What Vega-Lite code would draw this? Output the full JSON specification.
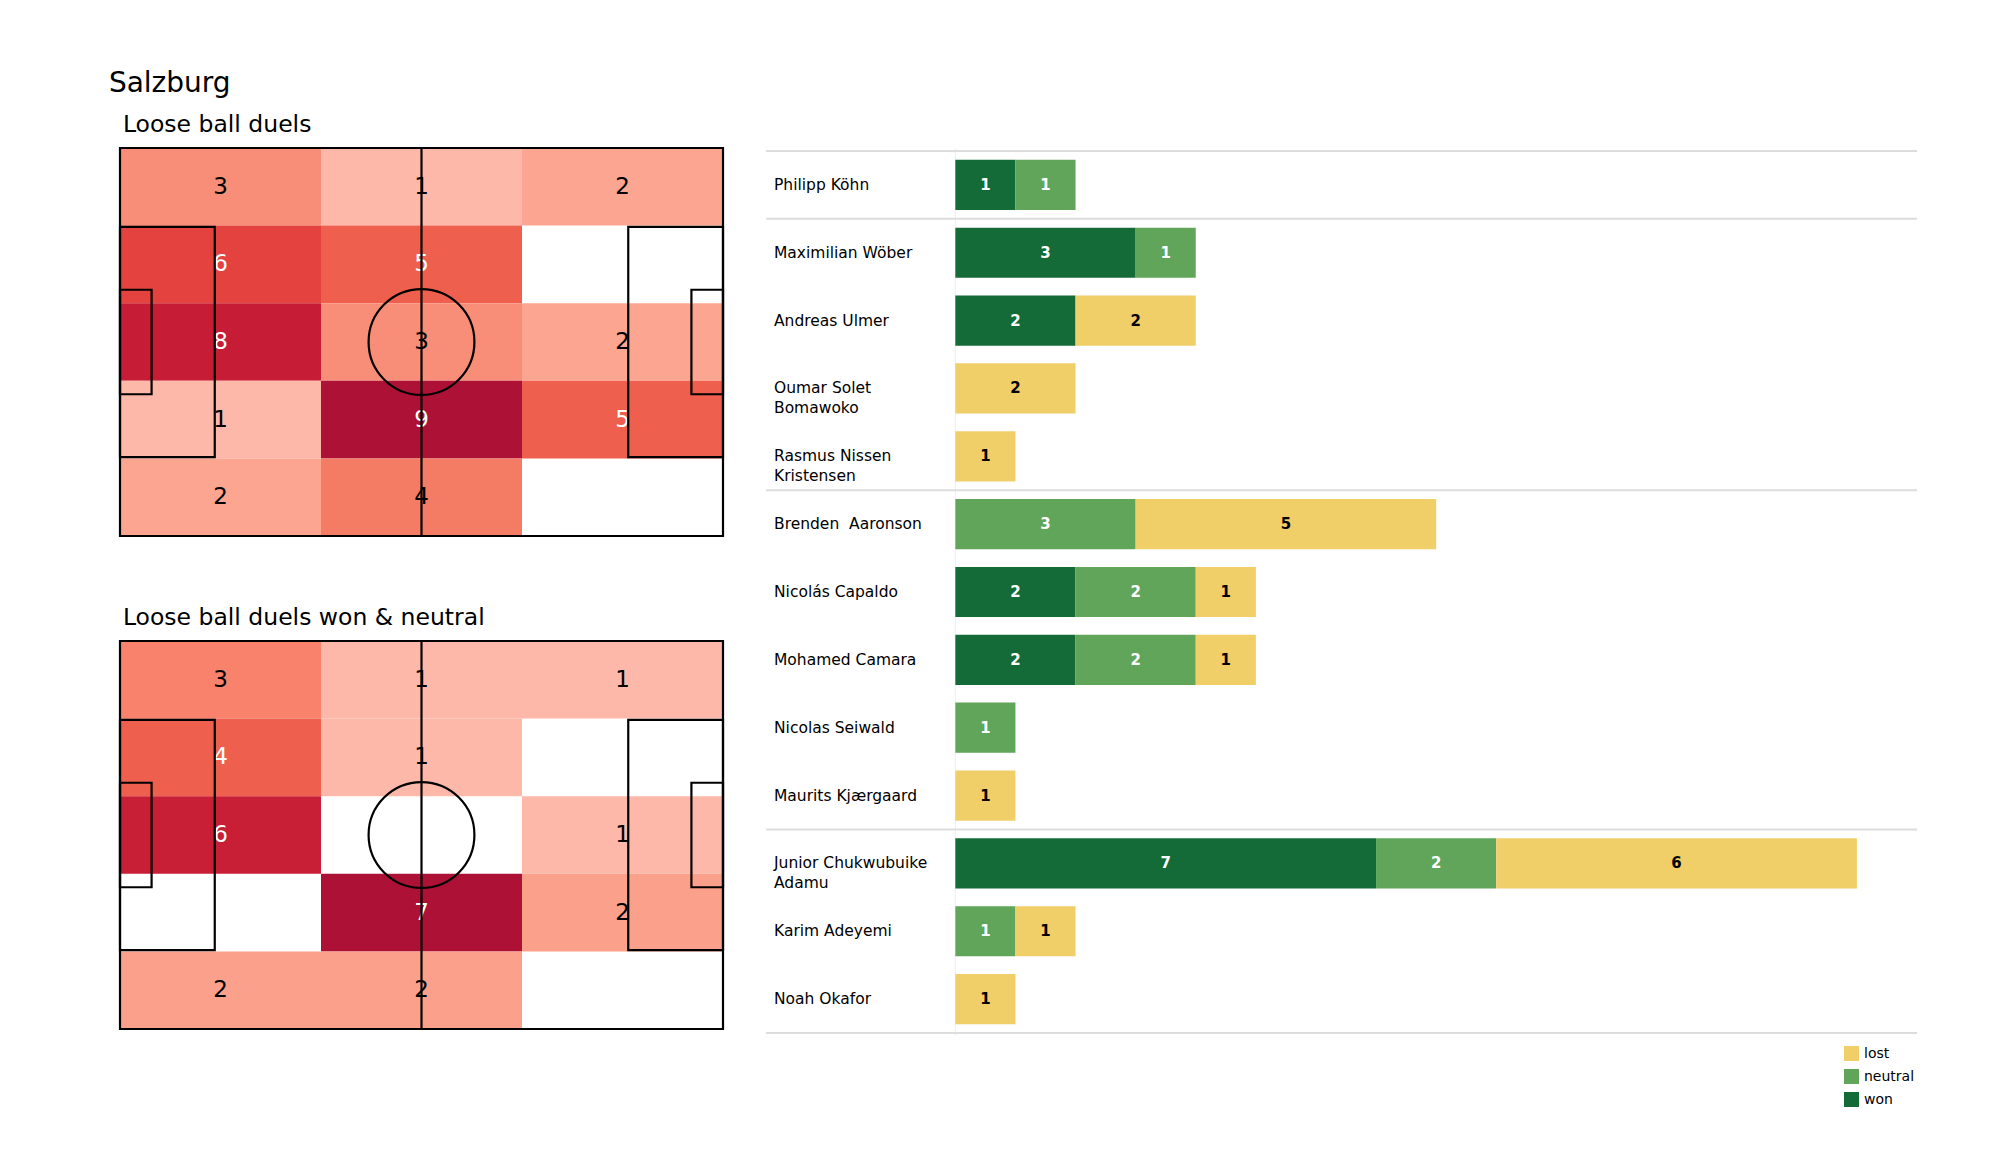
{
  "$schema": "https://vega.github.io/schema/vega-lite/v6.json",
  "background": "white",
  "padding": {"left": 108, "top": 70, "right": 84, "bottom": 20},
  "config": {
    "font": "DejaVu Sans",
    "view": {"stroke": null},
    "title": {"fontWeight": "normal", "color": "black", "font": "DejaVu Sans"}
  },
  "title": {"text": "Salzburg", "anchor": "start", "fontSize": 28, "offset": -13.5, "baseline": "alphabetic", "dx": -10},
  "datasets": {
    "loose": [
      {"row": 1, "col": 1, "n": 3}, {"row": 1, "col": 2, "n": 1}, {"row": 1, "col": 3, "n": 2},
      {"row": 2, "col": 1, "n": 6}, {"row": 2, "col": 2, "n": 5},
      {"row": 3, "col": 1, "n": 8}, {"row": 3, "col": 2, "n": 3}, {"row": 3, "col": 3, "n": 2},
      {"row": 4, "col": 1, "n": 1}, {"row": 4, "col": 2, "n": 9}, {"row": 4, "col": 3, "n": 5},
      {"row": 5, "col": 1, "n": 2}, {"row": 5, "col": 2, "n": 4}
    ],
    "wonneutral": [
      {"row": 1, "col": 1, "n": 3}, {"row": 1, "col": 2, "n": 1}, {"row": 1, "col": 3, "n": 1},
      {"row": 2, "col": 1, "n": 4}, {"row": 2, "col": 2, "n": 1},
      {"row": 3, "col": 1, "n": 6}, {"row": 3, "col": 3, "n": 1},
      {"row": 4, "col": 2, "n": 7}, {"row": 4, "col": 3, "n": 2},
      {"row": 5, "col": 1, "n": 2}, {"row": 5, "col": 2, "n": 2}
    ],
    "boxes": [
      {"x0": 0, "x1": 105, "y0": 0, "y1": 68},
      {"x0": 0, "x1": 16.5, "y0": 13.84, "y1": 54.16},
      {"x0": 88.5, "x1": 105, "y0": 13.84, "y1": 54.16},
      {"x0": 0, "x1": 5.5, "y0": 24.84, "y1": 43.16},
      {"x0": 99.5, "x1": 105, "y0": 24.84, "y1": 43.16}
    ],
    "players": [
      {"player": "Philipp Köhn", "label": "Philipp Köhn"},
      {"player": "Maximilian Wöber", "label": "Maximilian Wöber"},
      {"player": "Andreas Ulmer", "label": "Andreas Ulmer"},
      {"player": "Oumar Solet Bomawoko", "label": "Oumar Solet|Bomawoko"},
      {"player": "Rasmus Nissen Kristensen", "label": "Rasmus Nissen|Kristensen"},
      {"player": "Brenden  Aaronson", "label": "Brenden\u00a0\u00a0Aaronson"},
      {"player": "Nicolás Capaldo", "label": "Nicolás Capaldo"},
      {"player": "Mohamed Camara", "label": "Mohamed Camara"},
      {"player": "Nicolas Seiwald", "label": "Nicolas Seiwald"},
      {"player": "Maurits Kjærgaard", "label": "Maurits Kjærgaard"},
      {"player": "Junior Chukwubuike Adamu", "label": "Junior Chukwubuike|Adamu"},
      {"player": "Karim Adeyemi", "label": "Karim Adeyemi"},
      {"player": "Noah Okafor", "label": "Noah Okafor"}
    ],
    "duels": [
      {"player": "Philipp Köhn", "result": "won", "n": 1},
      {"player": "Philipp Köhn", "result": "neutral", "n": 1},
      {"player": "Maximilian Wöber", "result": "won", "n": 3},
      {"player": "Maximilian Wöber", "result": "neutral", "n": 1},
      {"player": "Andreas Ulmer", "result": "won", "n": 2},
      {"player": "Andreas Ulmer", "result": "lost", "n": 2},
      {"player": "Oumar Solet Bomawoko", "result": "lost", "n": 2},
      {"player": "Rasmus Nissen Kristensen", "result": "lost", "n": 1},
      {"player": "Brenden  Aaronson", "result": "neutral", "n": 3},
      {"player": "Brenden  Aaronson", "result": "lost", "n": 5},
      {"player": "Nicolás Capaldo", "result": "won", "n": 2},
      {"player": "Nicolás Capaldo", "result": "neutral", "n": 2},
      {"player": "Nicolás Capaldo", "result": "lost", "n": 1},
      {"player": "Mohamed Camara", "result": "won", "n": 2},
      {"player": "Mohamed Camara", "result": "neutral", "n": 2},
      {"player": "Mohamed Camara", "result": "lost", "n": 1},
      {"player": "Nicolas Seiwald", "result": "neutral", "n": 1},
      {"player": "Maurits Kjærgaard", "result": "lost", "n": 1},
      {"player": "Junior Chukwubuike Adamu", "result": "won", "n": 7},
      {"player": "Junior Chukwubuike Adamu", "result": "neutral", "n": 2},
      {"player": "Junior Chukwubuike Adamu", "result": "lost", "n": 6},
      {"player": "Karim Adeyemi", "result": "neutral", "n": 1},
      {"player": "Karim Adeyemi", "result": "lost", "n": 1},
      {"player": "Noah Okafor", "result": "lost", "n": 1}
    ]
  },
  "spacing": 40,
  "hconcat": [
    {
      "spacing": 68,
      "vconcat": [
        {
          "width": 603,
          "height": 388,
          "title": {"text": "Loose ball duels", "anchor": "start", "fontSize": 23.5, "offset": -9, "baseline": "alphabetic", "dx": 4},
          "layer": [
            {
              "data": {"name": "loose"},
              "encoding": {
                "x": {"field": "col", "type": "ordinal", "scale": {"domain": [1, 2, 3], "paddingInner": 0, "paddingOuter": 0}, "axis": null},
                "y": {"field": "row", "type": "ordinal", "scale": {"domain": [1, 2, 3, 4, 5], "paddingInner": 0, "paddingOuter": 0}, "axis": null}
              },
              "layer": [
                {
                  "mark": {"type": "rect"},
                  "encoding": {
                    "color": {"field": "n", "type": "quantitative", "legend": null,
                      "scale": {"domain": [1, 2, 3, 4, 5, 6, 8, 9], "range": ["#FEB8A9", "#FCA590", "#F98E78", "#F47C65", "#EF5F4D", "#E4423F", "#C71C36", "#AD1236"]}}
                  }
                },
                {
                  "mark": {"type": "text", "fontSize": 23, "baseline": "middle", "align": "center"},
                  "encoding": {
                    "text": {"field": "n", "type": "quantitative"},
                    "color": {"condition": {"test": "datum.n >= 5", "value": "white"}, "value": "black"}
                  }
                }
              ]
            },
            {
              "encoding": {
                "x": {"type": "quantitative", "scale": {"domain": [0, 105], "nice": false, "zero": false}, "axis": null},
                "y": {"type": "quantitative", "scale": {"domain": [0, 68], "nice": false, "zero": false}, "axis": null}
              },
              "layer": [
                {
                  "data": {"name": "boxes"},
                  "mark": {"type": "rect", "fillOpacity": 0, "fill": "white", "stroke": "black", "strokeWidth": 2.2},
                  "encoding": {
                    "x": {"field": "x0", "type": "quantitative"}, "x2": {"field": "x1"},
                    "y": {"field": "y0", "type": "quantitative"}, "y2": {"field": "y1"}
                  }
                },
                {
                  "data": {"values": [{"x": 52.5, "y0": 0, "y1": 68}]},
                  "mark": {"type": "rule", "color": "black", "strokeWidth": 2.2},
                  "encoding": {
                    "x": {"field": "x", "type": "quantitative"},
                    "y": {"field": "y0", "type": "quantitative"}, "y2": {"field": "y1"}
                  }
                },
                {
                  "data": {"values": [{"x": 52.5, "y": 34}]},
                  "mark": {"type": "point", "shape": "circle", "size": 11200, "filled": false, "stroke": "black", "strokeWidth": 2.2, "opacity": 1},
                  "encoding": {
                    "x": {"field": "x", "type": "quantitative"},
                    "y": {"field": "y", "type": "quantitative"}
                  }
                }
              ]
            }
          ],
          "resolve": {"scale": {"x": "independent", "y": "independent", "color": "independent"}}
        },
        {
          "width": 603,
          "height": 388,
          "title": {"text": "Loose ball duels won & neutral", "anchor": "start", "fontSize": 23.5, "offset": -9, "baseline": "alphabetic", "dx": 4},
          "layer": [
            {
              "data": {"name": "wonneutral"},
              "encoding": {
                "x": {"field": "col", "type": "ordinal", "scale": {"domain": [1, 2, 3], "paddingInner": 0, "paddingOuter": 0}, "axis": null},
                "y": {"field": "row", "type": "ordinal", "scale": {"domain": [1, 2, 3, 4, 5], "paddingInner": 0, "paddingOuter": 0}, "axis": null}
              },
              "layer": [
                {
                  "mark": {"type": "rect"},
                  "encoding": {
                    "color": {"field": "n", "type": "quantitative", "legend": null,
                      "scale": {"domain": [1, 2, 3, 4, 6, 7], "range": ["#FEB8A9", "#FBA08A", "#F8826C", "#EF5F4D", "#C81E36", "#AD1236"]}}
                  }
                },
                {
                  "mark": {"type": "text", "fontSize": 23, "baseline": "middle", "align": "center"},
                  "encoding": {
                    "text": {"field": "n", "type": "quantitative"},
                    "color": {"condition": {"test": "datum.n >= 4", "value": "white"}, "value": "black"}
                  }
                }
              ]
            },
            {
              "encoding": {
                "x": {"type": "quantitative", "scale": {"domain": [0, 105], "nice": false, "zero": false}, "axis": null},
                "y": {"type": "quantitative", "scale": {"domain": [0, 68], "nice": false, "zero": false}, "axis": null}
              },
              "layer": [
                {
                  "data": {"name": "boxes"},
                  "mark": {"type": "rect", "fillOpacity": 0, "fill": "white", "stroke": "black", "strokeWidth": 2.2},
                  "encoding": {
                    "x": {"field": "x0", "type": "quantitative"}, "x2": {"field": "x1"},
                    "y": {"field": "y0", "type": "quantitative"}, "y2": {"field": "y1"}
                  }
                },
                {
                  "data": {"values": [{"x": 52.5, "y0": 0, "y1": 68}]},
                  "mark": {"type": "rule", "color": "black", "strokeWidth": 2.2},
                  "encoding": {
                    "x": {"field": "x", "type": "quantitative"},
                    "y": {"field": "y0", "type": "quantitative"}, "y2": {"field": "y1"}
                  }
                },
                {
                  "data": {"values": [{"x": 52.5, "y": 34}]},
                  "mark": {"type": "point", "shape": "circle", "size": 11200, "filled": false, "stroke": "black", "strokeWidth": 2.2, "opacity": 1},
                  "encoding": {
                    "x": {"field": "x", "type": "quantitative"},
                    "y": {"field": "y", "type": "quantitative"}
                  }
                }
              ]
            }
          ],
          "resolve": {"scale": {"x": "independent", "y": "independent", "color": "independent"}}
        }
      ]
    },
    {
      "width": 1151,
      "height": 888,
      "title": {"text": " ", "anchor": "start", "fontSize": 23.5, "offset": -1.5, "baseline": "alphabetic"},
      "layer": [
        {
          "data": {"values": [{}]},
          "mark": {"type": "rule", "color": "#eeeeee", "strokeWidth": 1},
          "encoding": {"x": {"datum": 0, "type": "quantitative", "scale": {"domain": [-3.15, 16], "nice": false, "zero": false}, "axis": null}}
        },
        {
          "data": {"values": [{"player": "Philipp Köhn"}, {"player": "Maximilian Wöber"}, {"player": "Brenden  Aaronson"}, {"player": "Junior Chukwubuike Adamu"}]},
          "mark": {"type": "rule", "color": "#dddddd", "strokeWidth": 2},
          "encoding": {
            "y": {"field": "player", "type": "nominal", "bandPosition": 0, "sort": null, "axis": null},
            "x": {"datum": -3.15, "type": "quantitative"},
            "x2": {"datum": 16}
          }
        },
        {
          "data": {"values": [{"player": "Noah Okafor"}]},
          "mark": {"type": "rule", "color": "#dddddd", "strokeWidth": 2},
          "encoding": {
            "y": {"field": "player", "type": "nominal", "bandPosition": 1, "sort": null, "axis": null},
            "x": {"datum": -3.15, "type": "quantitative"},
            "x2": {"datum": 16}
          }
        },
        {
          "data": {"name": "duels"},
          "mark": {"type": "bar", "height": {"band": 0.74}},
          "encoding": {
            "y": {"field": "player", "type": "nominal", "sort": null, "axis": null,
              "scale": {"domain": ["Philipp Köhn", "Maximilian Wöber", "Andreas Ulmer", "Oumar Solet Bomawoko", "Rasmus Nissen Kristensen", "Brenden  Aaronson", "Nicolás Capaldo", "Mohamed Camara", "Nicolas Seiwald", "Maurits Kjærgaard", "Junior Chukwubuike Adamu", "Karim Adeyemi", "Noah Okafor"], "paddingInner": 0, "paddingOuter": 0.0442}},
            "x": {"field": "n", "type": "quantitative", "stack": "zero"},
            "color": {"field": "result", "type": "nominal",
              "scale": {"domain": ["lost", "neutral", "won"], "range": ["#F0CE68", "#60A55A", "#146B37"]},
              "legend": {"orient": "none", "legendX": 1724, "legendY": 898, "title": null, "symbolType": "square", "symbolSize": 225, "symbolStrokeWidth": 0, "labelFontSize": 14, "labelOffset": 5, "rowPadding": 8, "padding": 0, "labelColor": "black", "labelFont": "DejaVu Sans"}},
            "order": {"field": "result", "sort": "descending"}
          }
        },
        {
          "data": {"name": "duels"},
          "transform": [
            {"stack": "n", "groupby": ["player"], "sort": [{"field": "result", "order": "descending"}], "as": ["x0", "x1"]},
            {"fold": ["x0", "x1"], "as": ["edge", "pos"]},
            {"aggregate": [{"op": "mean", "field": "pos", "as": "mid"}], "groupby": ["player", "result", "n"]}
          ],
          "mark": {"type": "text", "fontSize": 15, "fontWeight": "bold", "align": "center", "baseline": "middle"},
          "encoding": {
            "y": {"field": "player", "type": "nominal", "sort": null, "axis": null},
            "x": {"field": "mid", "type": "quantitative"},
            "text": {"field": "n", "type": "quantitative"},
            "color": {"condition": {"test": "datum.result == 'lost'", "value": "black"}, "value": "white"}
          }
        },
        {
          "data": {"name": "players"},
          "mark": {"type": "text", "fontSize": 15.5, "align": "left", "baseline": "middle", "dx": 8, "lineBreak": "|", "lineHeight": 20, "color": "black"},
          "encoding": {
            "y": {"field": "player", "type": "nominal", "sort": null, "axis": null},
            "x": {"datum": -3.15, "type": "quantitative"},
            "text": {"field": "label"}
          }
        }
      ]
    }
  ]
}
